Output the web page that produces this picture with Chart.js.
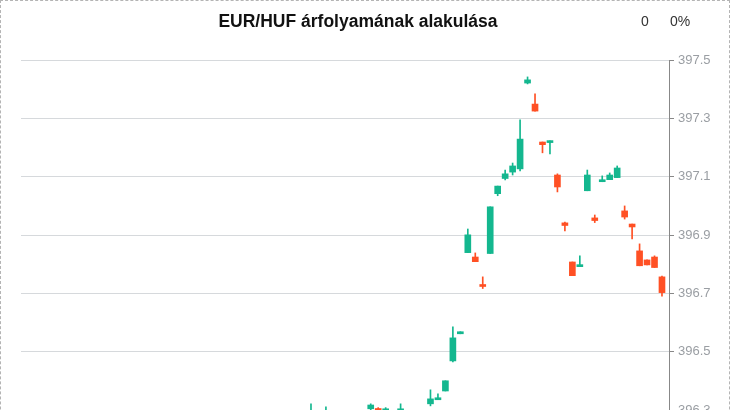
<!DOCTYPE html>
<html>
<head>
<meta charset="utf-8">
<script src="https://cdn.jsdelivr.net/npm/chart.js@4.4.1/dist/chart.umd.min.js"></script>
<style>
  html, body { margin: 0; padding: 0; overflow: hidden; background: #fff; }
  #wrap { position: relative; width: 730px; height: 560px; box-sizing: border-box; border: 1px dashed #b4b4b4; }
  #title { position: absolute; left: -1px; width: 716px; top: 10px; text-align: center;
           font: bold 17.5px "Liberation Sans", Arial, sans-serif; color: #111; }
  #chg1 { position: absolute; top: 12px; left: 640px; font: 14px "Liberation Sans", Arial, sans-serif; color: #333; }
  #chg2 { position: absolute; top: 12px; left: 669px; font: 14px "Liberation Sans", Arial, sans-serif; color: #333; }
  canvas { position: absolute; left: -1px; top: -1px; }
</style>
</head>
<body>
<div id="wrap">
  <canvas id="c" width="730" height="540"></canvas>
  <div id="title">EUR/HUF árfolyamának alakulása</div>
  <div id="chg1">0</div>
  <div id="chg2">0%</div>
</div>
<script>
// Candle slot (position along the time axis) of each visible candle
const slots = [0, 2, 8, 9, 10, 12, 16, 17, 18, 19, 20, 21, 22, 23, 24, 25, 26, 27, 28, 29,
               30, 31, 32, 33, 34, 35, 36, 37, 38, 39, 40, 41, 42, 43, 44, 45, 46, 47];
const openVals  = [396.26, 396.27, 396.305, 396.306, 396.290, 396.290, 396.322, 396.336, 396.366, 396.469, 396.562,
                   396.840, 396.825, 396.730, 396.837, 397.042, 397.094, 397.116, 397.127, 397.421,
                   397.349, 397.219, 397.217, 397.106, 396.942, 396.808, 396.792, 397.052, 396.959, 397.083,
                   397.090, 397.097, 396.983, 396.938, 396.846, 396.815, 396.825, 396.757];
const highVals  = [396.322, 396.312, 396.322, 396.309, 396.309, 396.322, 396.370, 396.356, 396.401, 396.586, 396.569,
                   396.921, 396.839, 396.757, 396.997, 397.068, 397.123, 397.147, 397.295, 397.442,
                   397.384, 397.219, 397.223, 397.110, 396.945, 396.808, 396.829, 397.123, 396.969, 397.103,
                   397.113, 397.137, 397.000, 396.938, 396.870, 396.815, 396.829, 396.760];
const lowVals   = [396.25, 396.26, 396.295, 396.280, 396.285, 396.285, 396.315, 396.336, 396.366, 396.466, 396.562,
                   396.840, 396.809, 396.717, 396.837, 397.035, 397.089, 397.106, 397.120, 397.418,
                   397.325, 397.182, 397.178, 397.048, 396.914, 396.761, 396.792, 397.052, 396.943, 397.083,
                   397.090, 397.097, 396.955, 396.887, 396.795, 396.798, 396.789, 396.691];
const closeVals = [396.29, 396.29, 396.318, 396.290, 396.305, 396.305, 396.339, 396.342, 396.401, 396.548, 396.569,
                   396.901, 396.809, 396.724, 396.997, 397.068, 397.110, 397.137, 397.229, 397.432,
                   397.325, 397.210, 397.223, 397.065, 396.933, 396.761, 396.798, 397.106, 396.950, 397.089,
                   397.106, 397.130, 396.962, 396.928, 396.795, 396.798, 396.789, 396.703];
const yTickValues = [395.9, 396.1, 396.3, 396.5, 396.7, 396.9, 397.1, 397.3, 397.5];

const UP = '#14b78f', DOWN = '#ff5024';
const colorAt = i => closeVals[i] >= openVals[i] ? UP : DOWN;

const wickData = slots.map((s, i) => ({ x: s, y: [lowVals[i], highVals[i]] }));
const bodyData = slots.map((s, i) => ({ x: s, y: [openVals[i], closeVals[i]] }));

new Chart(document.getElementById('c'), {
  type: 'bar',
  data: {
    datasets: [
      { data: wickData, barThickness: 1, grouped: false, borderWidth: 0,
        backgroundColor: ctx => colorAt(ctx.dataIndex), order: 2 },
      { data: bodyData, barThickness: 6, grouped: false, borderWidth: 0, minBarLength: 2,
        backgroundColor: ctx => colorAt(ctx.dataIndex), order: 1 }
    ]
  },
  options: {
    responsive: false,
    animation: false,
    events: [],
    layout: { padding: { left: 21, top: 60, right: 0, bottom: 13 } },
    plugins: { legend: { display: false }, tooltip: { enabled: false }, title: { display: false } },
    scales: {
      x: { type: 'linear', display: false, offset: false, min: -38.83, max: 47.94 },
      y: {
        position: 'right',
        min: 395.9, max: 397.5,
        afterFit: s => { s.width = 61; },
        afterBuildTicks: s => { s.ticks = yTickValues.map(v => ({ value: v })); },
        grid: { color: '#d6d9dc', tickColor: '#888', tickLength: 5, lineWidth: 1 },
        border: { display: true, color: '#888', width: 1 },
        ticks: { color: '#9a9ea3', padding: 4, font: { family: '"Liberation Sans", Arial, sans-serif', size: 13 },
                 callback: v => Number(v).toFixed(1) }
      }
    }
  }
});
</script>
</body>
</html>
